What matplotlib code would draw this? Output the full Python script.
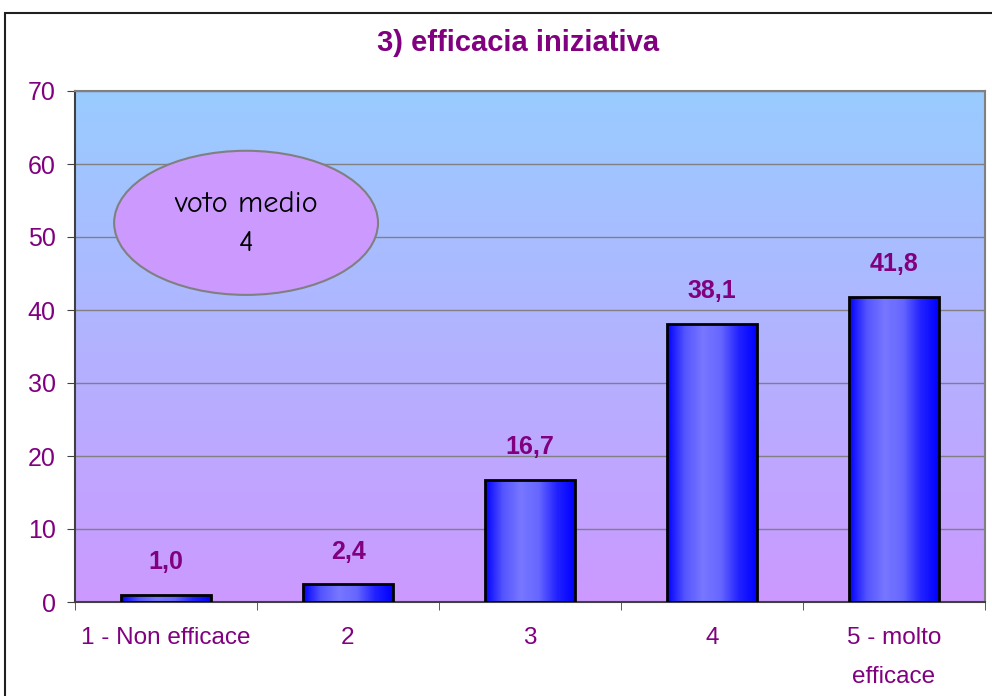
import numpy as np
import matplotlib
matplotlib.use('Agg')
from matplotlib import pyplot as plt
from matplotlib.patches import Ellipse, Rectangle
from matplotlib.colors import LinearSegmentedColormap

# dati
categorie = ['1 - Non efficace', '2', '3', '4', '5 - molto\nefficace']
valori = [1.0, 2.4, 16.7, 38.1, 41.8]
etichette = ['1,0', '2,4', '16,7', '38,1', '41,8']
titolo = '3) efficacia iniziativa'
voto_medio = 'voto medio\n4'

viola = '#800080'
plt.rcParams['font.family'] = ['Liberation Sans', 'DejaVu Sans']

fig = plt.figure(figsize=(9.92, 6.96), dpi=100)
fig.patch.set_facecolor('white')
# cornice esterna
fig.patches.append(Rectangle((5 / 992, -0.05), 1.2, (696 - 13) / 696 + 0.05,
                             transform=fig.transFigure, fill=False,
                             edgecolor='#202020', linewidth=1.5))

ax = fig.add_axes([75 / 992, 94 / 696, 910 / 992, 511 / 696])
x = np.arange(len(categorie))
ax.set_xlim(-0.5, len(categorie) - 0.5)
ax.set_ylim(0, 70)

# sfondo sfumato azzurro -> lilla
sfondo = LinearSegmentedColormap.from_list('sf', ['#CC99FF', '#99CCFF'])
ax.imshow(np.linspace(0, 1, 256).reshape(-1, 1), cmap=sfondo, aspect='auto',
          extent=(-0.5, len(categorie) - 0.5, 0, 70), origin='lower', zorder=0)

ax.set_yticks(np.arange(0, 71, 10))
ax.yaxis.grid(True, color='#808080', linewidth=1)
ax.set_axisbelow(True)

# barre con sfumatura orizzontale
barre = ax.bar(x, valori, width=0.49, facecolor='none', edgecolor='black',
               linewidth=2, zorder=3)
grad_barra = LinearSegmentedColormap.from_list(
    'gb', ['#0000FF', '#5555FF', '#7777FF', '#6666FF', '#2222FF', '#0000FF'])
for b in barre:
    x0, y0 = b.get_x(), b.get_y()
    w, h = b.get_width(), b.get_height()
    im = ax.imshow(np.linspace(0, 1, 256).reshape(1, -1), cmap=grad_barra,
                   aspect='auto', extent=(x0, x0 + w, y0, y0 + h), zorder=2)
    im.set_clip_path(b)

for xi, v, t in zip(x, valori, etichette):
    ax.annotate(t, (xi, v), xytext=(0, 15), textcoords='offset points',
                ha='center', va='bottom', color=viola, fontsize=18,
                fontweight='bold')

ax.set_xticks(x)
ax.set_xticklabels(categorie, color=viola, fontsize=17.5, linespacing=2.0)
ax.set_xticks(np.arange(-0.5, len(categorie), 1), minor=True)
ax.tick_params(axis='x', which='major', length=0, pad=18)
ax.tick_params(axis='x', which='minor', length=6, direction='out', color='#404040')
ax.tick_params(axis='y', length=6, direction='out', color='#404040',
               labelcolor=viola, labelsize=18, pad=8)

for s in ['top', 'right']:
    ax.spines[s].set_color('#808080')
    ax.spines[s].set_linewidth(1.5)
for s in ['left', 'bottom']:
    ax.spines[s].set_color('#404040')
    ax.spines[s].set_linewidth(1.5)

# ellisse con il voto medio
ell = Ellipse((0.188, 0.742), 0.29, 0.282, transform=ax.transAxes,
              facecolor='#CC99FF', edgecolor='#808080', linewidth=1.5, zorder=4)
ax.add_patch(ell)
ax.text(0.188, 0.74, voto_medio, transform=ax.transAxes, ha='center',
        va='center', fontsize=22, linespacing=1.55, zorder=5,
        family=['Comic Neue', 'DejaVu Sans'])

fig.text(0.522, 1 - 43 / 696, titolo, ha='center', va='center', color=viola,
         fontsize=21, fontweight='bold')

fig.savefig('out.png', dpi=100)
